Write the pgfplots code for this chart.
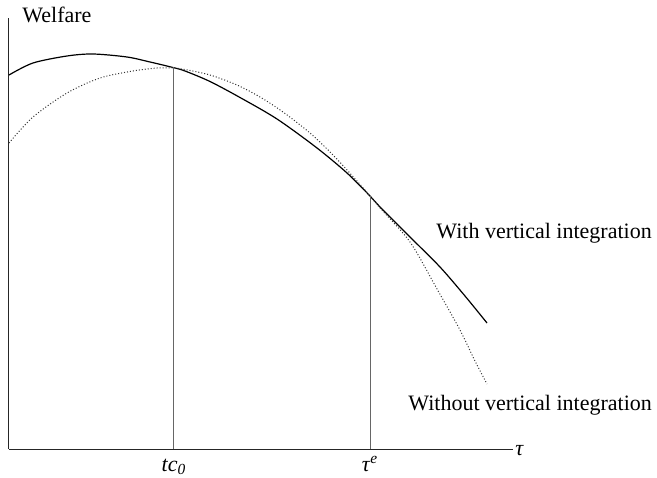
\documentclass[border=0pt]{standalone}
\usepackage{fontspec}
\setmainfont{Liberation Serif}
\usepackage{pgfplots}
\pgfplotsset{compat=1.18}
\begin{document}
\fontsize{11}{13}\selectfont
\begin{tikzpicture}
\begin{axis}[
  x=0.5pt, y=0.5pt,
  xmin=0, xmax=504, ymin=0, ymax=431,
  axis lines=left,
  axis line style={-, black!85, line width=0.5pt},
  xtick=\empty, ytick=\empty,
  clip=false,
]
% invisible frame giving the picture its size
\path (axis cs:-9,-28) rectangle (axis cs:648,449);
% With vertical integration (solid)
\addplot[black, line width=0.6pt, smooth, tension=0.5] coordinates {
(0,374) (24,386) (58,393) (84,395) (118,392) (141,387) (164,381.5)
(176,378) (201,367.5) (231,351.5) (268,330) (308,301) (338,276) (361,253)
(371,242) (401,212) (431,182) (456,153) (478,126)
};
% Without vertical integration (dotted)
\addplot[black!80, line width=0.5pt, densely dotted, smooth, tension=0.5] coordinates {
(0,306) (24,332) (58,356) (91,371) (124,378) (148,381) (164,381)
(176,379.5) (201,374) (228,364) (251,352) (274,337) (301,316) (324,294)
(348,268) (361,253) (371,241) (401,207) (428,160) (451,119) (466,88) (478,65)
};
% vertical reference lines
\addplot[black!60, line width=0.5pt] coordinates {(164,0) (164,381.5)};
\addplot[black!60, line width=0.5pt] coordinates {(361,0) (361,253)};
% labels
\node[anchor=base west, inner sep=0pt] at (axis cs:13,426) {Welfare};
\node[anchor=base west, inner sep=0pt] at (axis cs:427,211) {With vertical integration};
\node[anchor=base west, inner sep=0pt] at (axis cs:399,39) {Without vertical integration};
\node[anchor=west, inner sep=0pt] at (axis cs:506,-2) {\textit{τ}};
\node[anchor=base, inner sep=0pt] at (axis cs:165,-22) {\textit{tc}\textsubscript{\textit{0}}};
\node[anchor=base, inner sep=0pt] at (axis cs:361,-22) {\textit{τ}\textsuperscript{\textit{e}}};
\end{axis}
\end{tikzpicture}
\end{document}
